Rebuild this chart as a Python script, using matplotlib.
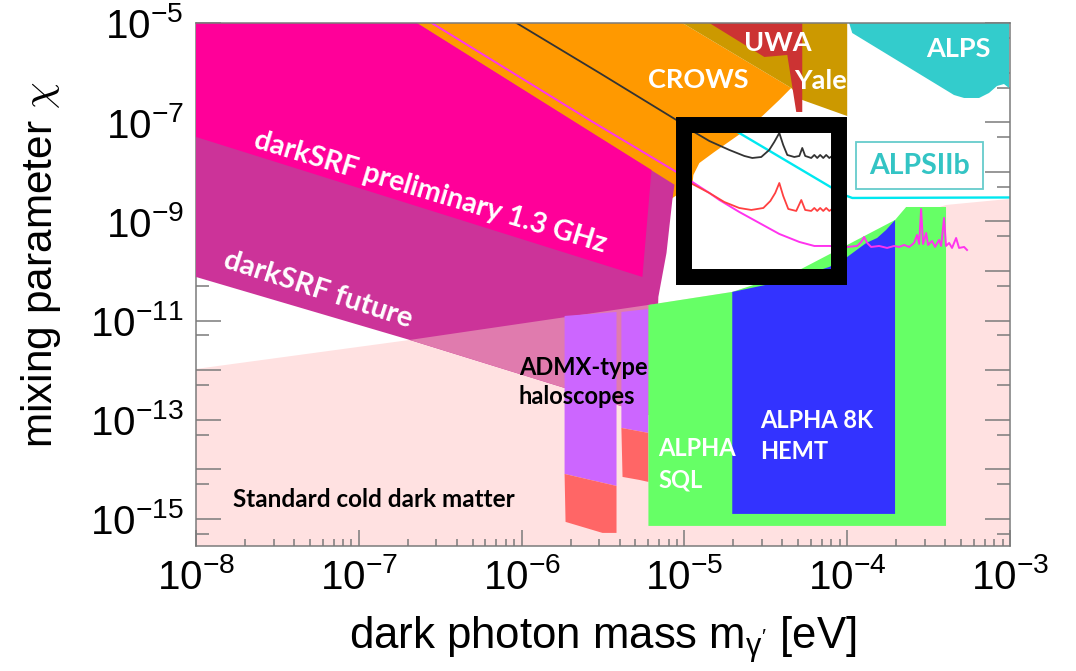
import numpy as np
import matplotlib
matplotlib.use("Agg")
import matplotlib.pyplot as plt
from matplotlib.patches import Rectangle

plt.rcParams["font.family"] = ["Liberation Sans", "DejaVu Sans"]
plt.rcParams["mathtext.fontset"] = "custom"
plt.rcParams["mathtext.rm"] = "Liberation Sans"
plt.rcParams["mathtext.it"] = "Liberation Sans:italic"
plt.rcParams["mathtext.default"] = "regular"

# ---- exclusion / reach regions (log10 of mass in eV, log10 of chi) ----
srf_prelim_logm = [-8.0, -6.644, -5.202, -5.258, -8.0]
srf_prelim_logchi = [-5.0, -5.0, -7.964, -10.121, -7.298]

srf_future_top_logm = [-8.0, -6.644, -5.061, -5.074, -5.110, -5.160, -5.184]
srf_future_top_logchi = [-5.0, -5.0, -8.261, -8.569, -9.637, -10.524, -12.94]
srf_future_low_logm = [-8.0, -6.687, -5.736, -5.184]
srf_future_low_logchi = [-10.121, -11.391, -12.359, -12.94]

cdm_logm = [-8.0, -6.687, -5.221, -4.706, -4.0, -3.706, -3.393, -3.006]
cdm_logchi = [-11.976, -11.391, -10.685, -10.423, -9.718, -9.012, -8.669, -8.548]

crows_logm = [-6.748, -5.012, -4.344, -4.417, -4.521, -4.650, -4.816, -4.908, -4.945, -4.951, -5.092]
crows_logchi = [-5.0, -5.0, -6.310, -6.552, -6.875, -7.218, -7.601, -7.823, -8.065, -8.266, -8.569]

yale_logm = [-5.012, -4.0, -4.0, -4.018, -4.276, -4.344]
yale_logchi = [-5.0, -5.0, -6.875, -6.855, -6.552, -6.310]

uwa_logm = [-4.847, -4.276, -4.276, -4.313, -4.368, -4.436, -4.509, -4.558]
uwa_logchi = [-5.0, -5.0, -6.794, -6.794, -5.645, -5.665, -5.685, -5.585]

alps_logm = [-3.988, -3.006, -3.006, -3.037, -3.080, -3.129, -3.190, -3.282, -3.344, -3.969]
alps_logchi = [-5.0, -5.0, -6.310, -6.230, -6.270, -6.411, -6.512, -6.512, -6.452, -5.202]

admx1_logm = [-5.736, -5.417, -5.417, -5.736]
admx1_logchi = [-10.907, -10.827, -14.335, -14.093]
admx1_low_logm = [-5.736, -5.417, -5.417, -5.503, -5.730]
admx1_low_logchi = [-14.093, -14.335, -15.282, -15.282, -15.060]
admx2_logm = [-5.387, -5.221, -5.221, -5.387]
admx2_logchi = [-10.827, -10.766, -13.266, -13.165]
admx2_low_logm = [-5.387, -5.221, -5.221, -5.276, -5.380]
admx2_low_logchi = [-13.165, -13.266, -14.254, -14.214, -14.153]

sql_logm = [-5.221, -4.706, -4.294, -3.706, -3.638, -3.393, -3.393, -5.221]
sql_logchi = [-10.685, -10.423, -9.980, -8.972, -8.710, -8.710, -15.141, -15.141]

hemt_logm = [-4.706, -4.356, -4.110, -4.0, -3.883, -3.816, -3.761, -3.706, -3.706, -4.706]
hemt_logchi = [-10.423, -10.181, -9.919, -9.718, -9.435, -9.335, -9.173, -8.972, -14.899, -14.899]

# ---- sensitivity curves ----
black_logm = [-6.031, -5.521, -5.049, -4.951, -4.847, -4.724, -4.632, -4.583, -4.528, -4.479,
              -4.448, -4.417, -4.393, -4.368, -4.325, -4.294, -4.276, -4.258, -4.221, -4.202,
              -4.184, -4.166, -4.147, -4.129, -4.110, -4.092]
black_logchi = [-5.0, -6.008, -6.956, -7.177, -7.379, -7.560, -7.681, -7.722, -7.702, -7.560,
                -7.399, -7.218, -7.460, -7.661, -7.702, -7.681, -7.520, -7.681, -7.722, -7.661,
                -7.722, -7.661, -7.722, -7.661, -7.722, -7.681]

red_logm = [-4.951, -4.847, -4.755, -4.663, -4.589, -4.515, -4.472, -4.442, -4.417, -4.393,
            -4.362, -4.313, -4.282, -4.258, -4.221, -4.202, -4.184, -4.166, -4.147, -4.129,
            -4.110, -4.092]
red_logchi = [-8.246, -8.427, -8.609, -8.730, -8.770, -8.730, -8.589, -8.427, -8.226, -8.488,
              -8.750, -8.790, -8.569, -8.770, -8.790, -8.730, -8.790, -8.730, -8.790, -8.730,
              -8.790, -8.750]

magenta_logm = [-6.552, -5.583, -5.049, -4.951, -4.847, -4.785, -4.663, -4.540, -4.417, -4.294,
                -4.202, -4.110, -4.0, -3.939, -3.914, -3.896, -3.877, -3.853, -3.804, -3.755,
                -3.712, -3.681, -3.650, -3.620, -3.589, -3.571, -3.558, -3.546, -3.534, -3.515,
                -3.503, -3.479, -3.460, -3.436, -3.423, -3.405, -3.393, -3.374, -3.356, -3.331,
                -3.313, -3.282, -3.264]
magenta_logchi = [-5.0, -6.956, -8.004, -8.206, -8.427, -8.569, -8.810, -9.032, -9.254, -9.415,
                  -9.496, -9.496, -9.516, -9.496, -9.415, -9.315, -9.435, -9.516, -9.496, -9.536,
                  -9.496, -9.516, -9.476, -9.516, -9.435, -9.274, -9.456, -8.750, -9.456, -9.234,
                  -9.476, -9.395, -9.516, -9.375, -9.496, -8.931, -9.496, -9.435, -9.536, -9.335,
                  -9.536, -9.516, -9.577]

cyan_logm = [-4.736, -4.663, -4.092, -4.018, -3.969, -3.006]
cyan_logchi = [-7.077, -7.218, -8.327, -8.468, -8.528, -8.518]

x_tick_exp = [-8, -7, -6, -5, -4, -3]
y_tick_exp = list(range(-15, -4))
y_label_exp = [-15, -13, -11, -9, -7, -5]


def p(v):
    return 10.0 ** np.asarray(v, dtype=float)


fig = plt.figure(figsize=(10.76, 6.71), dpi=100)
ax = fig.add_axes([196 / 1076, 1 - 545.7 / 671, 814 / 1076, 522.7 / 671])
ax.set_xscale("log")
ax.set_yscale("log")

# standard cold dark matter band
ax.fill_between(p(cdm_logm), 1e-17, p(cdm_logchi), facecolor="#ffe1e1", edgecolor="none", zorder=1)

# lab constraints
ax.fill(p(crows_logm), p(crows_logchi), facecolor="#ff9900", edgecolor="none", zorder=1.2)
ax.fill(p(yale_logm), p(yale_logchi), facecolor="#cc9900", edgecolor="none", zorder=1.3)
ax.fill(p(uwa_logm), p(uwa_logchi), facecolor="#cc3333", edgecolor="none", zorder=1.4)
ax.fill(p(alps_logm), p(alps_logchi), facecolor="#33cccc", edgecolor="none", zorder=3)

# darkSRF regions
fut_m = srf_future_top_logm + srf_future_low_logm[::-1]
fut_c = srf_future_top_logchi + srf_future_low_logchi[::-1]
ax.fill(p(fut_m), p(fut_c), facecolor="#cc3399", edgecolor="none", zorder=3)
ax.fill(p(srf_prelim_logm), p(srf_prelim_logchi), facecolor="#ff0099", edgecolor="none", zorder=3.05)

# where the darkSRF future reach overlaps the dark matter band
grid = np.linspace(-6.9, -5.19, 1500)
low = np.interp(grid, srf_future_low_logm, srf_future_low_logchi)
top = np.interp(grid, cdm_logm, cdm_logchi)
ax.fill_between(p(grid), p(low), p(top), where=top > low, facecolor="#e07bae",
                edgecolor="none", zorder=3.1)

# haloscopes
ax.fill(p(admx1_logm), p(admx1_logchi), facecolor="#cc66ff", edgecolor="none", zorder=3.2)
ax.fill(p(admx2_logm), p(admx2_logchi), facecolor="#cc66ff", edgecolor="none", zorder=3.2)
ax.fill(p(admx1_low_logm), p(admx1_low_logchi), facecolor="#ff6666", edgecolor="none", zorder=3.2)
ax.fill(p(admx2_low_logm), p(admx2_low_logchi), facecolor="#ff6666", edgecolor="none", zorder=3.2)
ax.fill(p(sql_logm), p(sql_logchi), facecolor="#66ff66", edgecolor="none", zorder=3.2)
ax.fill(p(hemt_logm), p(hemt_logchi), facecolor="#3333ff", edgecolor="none", zorder=3.3)

# sensitivity curves
ax.plot(p(cyan_logm), p(cyan_logchi), color="#00e8f0", lw=1.7, zorder=4)
ax.plot(p(magenta_logm), p(magenta_logchi), color="#ff33ee", lw=1.4, zorder=4)
ax.plot(p(black_logm), p(black_logchi), color="#333333", lw=1.3, zorder=4)
ax.plot(p(red_logm), p(red_logchi), color="#ff4040", lw=1.3, zorder=4)

# zoom frame
ax.add_patch(Rectangle((10 ** -5.0, 10 ** -10.121), 10 ** -4.049 - 10 ** -5.0,
                       10 ** -7.056 - 10 ** -10.121, facecolor="none", edgecolor="black",
                       lw=11.5, joinstyle="miter", zorder=5))
# ALPSIIb label frame
ax.add_patch(Rectangle((10 ** -3.945, 10 ** -8.347), 10 ** -3.166 - 10 ** -3.945,
                       10 ** -7.399 - 10 ** -8.347, facecolor="white", edgecolor="#66cccc",
                       lw=1.3, zorder=4))

lab = dict(family=["Lato", "DejaVu Sans"], weight="bold")
ax.text(10 ** -6.558, 10 ** -8.407, "darkSRF preliminary 1.3 GHz", color="white", fontsize=20.5,
        rotation=-16.7, rotation_mode="anchor", ha="center", va="center", zorder=6, **lab)
ax.text(10 ** -7.252, 10 ** -10.383, "darkSRF future", color="white", fontsize=21,
        rotation=-18, rotation_mode="anchor", ha="center", va="center", zorder=6, **lab)
ax.text(10 ** -4.914, 10 ** -6.149, "CROWS", color="white", fontsize=19.5, ha="center",
        va="center", zorder=6, **lab)
ax.text(10 ** -4.429, 10 ** -5.403, "UWA", color="white", fontsize=19.5, ha="center",
        va="center", zorder=6, **lab)
ax.text(10 ** -4.166, 10 ** -6.169, "Yale", color="white", fontsize=19.5, ha="center",
        va="center", zorder=6, **lab)
ax.text(10 ** -3.319, 10 ** -5.524, "ALPS", color="white", fontsize=19.5, ha="center",
        va="center", zorder=6, **lab)
ax.text(10 ** -3.558, 10 ** -7.883, "ALPSIIb", color="#33c4c4", fontsize=20.5, ha="center",
        va="center", zorder=6, **lab)
ax.text(10 ** -6.018, 10 ** -12.238, "ADMX-type\nhaloscopes", color="black", fontsize=17,
        ha="left", va="center", linespacing=1.3, zorder=6, **lab)
ax.text(10 ** -5.160, 10 ** -13.891, "ALPHA\nSQL", color="white", fontsize=17,
        ha="left", va="center", linespacing=1.45, zorder=6, **lab)
ax.text(10 ** -4.534, 10 ** -13.327, "ALPHA 8K\nHEMT", color="white", fontsize=17,
        ha="left", va="center", linespacing=1.4, zorder=6, **lab)
ax.text(10 ** -7.773, 10 ** -14.617, "Standard cold dark matter", color="black", fontsize=17.5,
        ha="left", va="center", zorder=6, **lab)

# axes, ticks and labels
ax.set_xticks([10.0 ** e for e in x_tick_exp])
ax.set_xticklabels([r"$10^{%d}$" % e for e in x_tick_exp])
ax.set_xticks([k * 10.0 ** e for e in range(-8, -3) for k in range(2, 10)], minor=True)
ax.set_xticklabels([], minor=True)
ax.set_yticks([10.0 ** e for e in y_tick_exp])
ax.set_yticklabels([r"$10^{%d}$" % e if e in y_label_exp else "" for e in y_tick_exp])
ax.set_yticks([5 * 10.0 ** e for e in range(-16, -5)], minor=True)
ax.set_yticklabels([], minor=True)
ax.set_xlim(1e-8, 1e-3)
ax.set_ylim(10 ** -15.54, 1e-5)

gray = "#7a7a7a"
ax.tick_params(axis="both", which="both", direction="in", color=gray, width=1.1,
               labelsize=29, top=False, right=True)
ax.tick_params(axis="x", which="major", length=11.5, pad=9)
ax.tick_params(axis="x", which="minor", length=5)
ax.tick_params(axis="y", which="major", length=18, pad=9)
ax.tick_params(axis="y", which="minor", length=9.4)
for side, sp in ax.spines.items():
    sp.set_color(gray)
    sp.set_linewidth(1.1)
ax.spines["top"].set_zorder(5)
ax.spines["right"].set_zorder(5)
ax.spines["bottom"].set_zorder(5)

ax.set_xlabel(r"dark photon mass m$_{\gamma'}$ [eV]", fontsize=31.5)
ax.xaxis.set_label_coords(0.5, -0.13)
ax.set_ylabel(r"mixing parameter $\mathit{\chi}$", fontsize=30.5, math_fontfamily="cm")
ax.yaxis.set_label_coords(-0.163, 0.537)

fig.savefig("out.png", dpi=100)
